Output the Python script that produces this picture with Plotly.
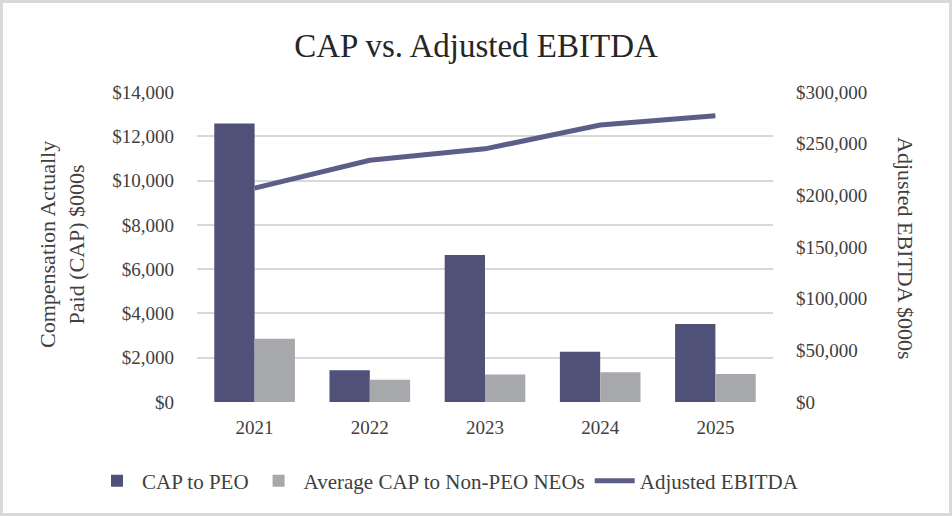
import plotly.graph_objects as go

years = ["2021", "2022", "2023", "2024", "2025"]
cap_peo = [12575, 1430, 6640, 2275, 3525]
cap_non_peo = [2860, 1010, 1240, 1340, 1265]
adj_ebitda = [207000, 234000, 245000, 268000, 277000]

left_ticks = [0, 2000, 4000, 6000, 8000, 10000, 12000, 14000]
right_ticks = [0, 50000, 100000, 150000, 200000, 250000, 300000]

FONT = "Liberation Serif"
W, H = 952, 516
ML, MR, MT, MB = 197, 179, 92, 114
PW = W - ML - MR
PH = H - MT - MB

fig = go.Figure()
fig.add_trace(go.Bar(x=years, y=cap_peo, name="CAP to PEO", marker_color="#4f5178",
                     marker_line_width=0))
fig.add_trace(go.Bar(x=years, y=cap_non_peo, name="Average CAP to Non-PEO NEOs",
                     marker_color="#a7a8ab", marker_line_width=0))
fig.add_trace(go.Scatter(x=years, y=adj_ebitda, name="Adjusted EBITDA", mode="lines",
                         line=dict(color="#5d5e88", width=5), yaxis="y2"))

fig.update_layout(
    width=W, height=H,
    margin=dict(l=ML, r=MR, t=MT, b=MB, autoexpand=False),
    paper_bgcolor="white", plot_bgcolor="white",
    font=dict(family=FONT, color="#404040", size=19),
    barmode="group", bargap=0.3, bargroupgap=0,
    title=dict(text="CAP vs. Adjusted EBITDA", x=0.5, xanchor="center", y=1 - 45 / H,
               yanchor="middle", font=dict(size=33, color="#262626", family=FONT)),
    xaxis=dict(showgrid=False, showline=False, ticks="", ticklabelstandoff=12,
               automargin=False, tickfont=dict(size=19, color="#404040")),
    yaxis=dict(range=[0, 14000], tickvals=left_ticks,
               ticktext=[f"${v:,}" for v in left_ticks],
               showgrid=True, gridcolor="#d9d9d9", gridwidth=1.5, zeroline=False,
               showline=False, ticks="", ticklabelstandoff=22, automargin=False,
               tickfont=dict(size=19, color="#404040")),
    yaxis2=dict(range=[0, 300000], tickvals=right_ticks,
                ticktext=[f"${v:,}" for v in right_ticks],
                overlaying="y", side="right", showgrid=False, zeroline=False,
                showline=False, ticks="", ticklabelstandoff=22, automargin=False,
                tickfont=dict(size=19, color="#404040")),
    legend=dict(orientation="h", x=(92 - ML) / PW, xanchor="left", xref="paper",
                y=-(481 - (MT + PH)) / PH, yref="paper", yanchor="middle",
                font=dict(size=21, color="#404040", family=FONT),
                itemwidth=40, tracegroupgap=0, bgcolor="rgba(0,0,0,0)"),
    showlegend=True,
    annotations=[
        dict(text="Compensation Actually<br>Paid (CAP) $000s", xref="paper", yref="paper",
             x=(62 - ML) / PW, y=(MT + PH - 245) / PH, xanchor="center", yanchor="middle",
             textangle=-90, showarrow=False, font=dict(size=22, color="#404040", family=FONT)),
        dict(text="Adjusted EBITDA $000s", xref="paper", yref="paper",
             x=(905 - ML) / PW, y=(MT + PH - 248) / PH, xanchor="center", yanchor="middle",
             textangle=90, showarrow=False, font=dict(size=22, color="#404040", family=FONT)),
    ],
    shapes=[dict(type="rect", xref="paper", yref="paper",
                 x0=-(ML - 1.5) / PW, x1=1 + (MR - 1.5) / PW,
                 y0=-(MB - 1.5) / PH, y1=1 + (MT - 1.5) / PH,
                 line=dict(color="#d9d9d9", width=3), layer="below")],
)

fig.write_html("out.html", config={"displayModeBar": False},
               post_script="document.body.style.margin='0';")
